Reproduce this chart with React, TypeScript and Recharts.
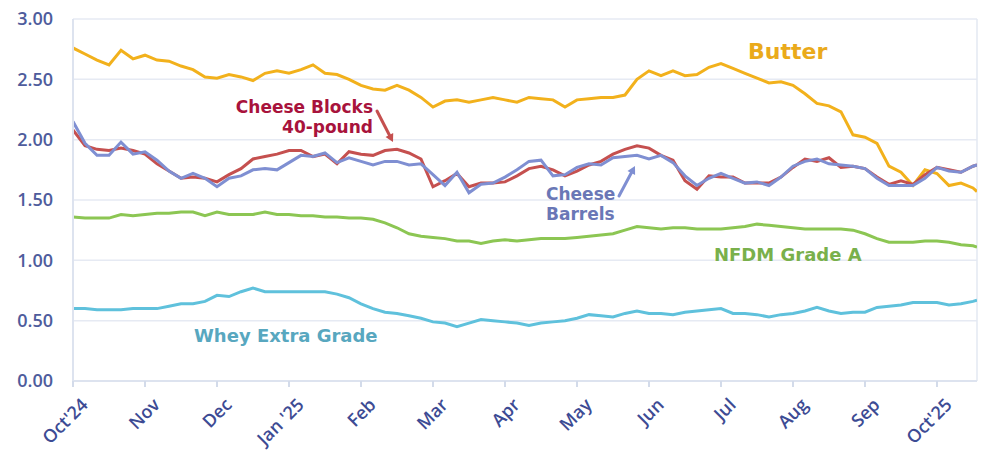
import React from 'react';
import { LineChart, Line, XAxis, YAxis, CartesianGrid, ReferenceLine } from 'recharts';

// Month tick labels (one per month start, Oct'24 .. Oct'25)
const monthLabels = ["Oct'24", 'Nov', 'Dec', "Jan '25", 'Feb', 'Mar', 'Apr', 'May', 'Jun', 'Jul', 'Aug', 'Sep', "Oct'25"];
const yTicks = [0, 0.5, 1, 1.5, 2, 2.5, 3];

// Samples every 1/6 month from Oct 1 2024; last sample is the final date (~Oct 17 2025)
const STEP = 1 / 6;
const END_T = 12.556;

const butter = [
  2.76, 2.71, 2.66, 2.62, 2.74, 2.67, 2.70, 2.66, 2.65, 2.61, 2.58, 2.52, 2.51, 2.54, 2.52, 2.49,
  2.55, 2.57, 2.55, 2.58, 2.62, 2.55, 2.54, 2.50, 2.45, 2.42, 2.41, 2.45, 2.41, 2.35, 2.27, 2.32,
  2.33, 2.31, 2.33, 2.35, 2.33, 2.31, 2.35, 2.34, 2.33, 2.27, 2.33, 2.34, 2.35, 2.35, 2.37, 2.50,
  2.57, 2.53, 2.57, 2.53, 2.54, 2.60, 2.63, 2.59, 2.55, 2.51, 2.47, 2.48, 2.45, 2.38, 2.30, 2.28,
  2.23, 2.04, 2.02, 1.97, 1.78, 1.73, 1.62, 1.75, 1.72, 1.62, 1.64, 1.60, 1.57,
];
const cheeseBlocks = [
  2.08, 1.95, 1.92, 1.91, 1.93, 1.91, 1.88, 1.80, 1.74, 1.68, 1.69, 1.68, 1.65, 1.71, 1.76, 1.84,
  1.86, 1.88, 1.91, 1.91, 1.86, 1.88, 1.80, 1.90, 1.88, 1.87, 1.91, 1.92, 1.89, 1.84, 1.61, 1.66,
  1.72, 1.61, 1.64, 1.64, 1.65, 1.70, 1.76, 1.78, 1.75, 1.70, 1.74, 1.79, 1.82, 1.88, 1.92, 1.95,
  1.93, 1.87, 1.83, 1.66, 1.59, 1.70, 1.69, 1.69, 1.64, 1.64, 1.64, 1.69, 1.77, 1.84, 1.82, 1.85,
  1.77, 1.78, 1.76, 1.69, 1.63, 1.66, 1.63, 1.71, 1.77, 1.75, 1.73, 1.78, 1.79,
];
const cheeseBarrels = [
  2.15, 1.97, 1.87, 1.87, 1.98, 1.88, 1.90, 1.83, 1.74, 1.68, 1.72, 1.68, 1.61, 1.68, 1.70, 1.75,
  1.76, 1.75, 1.81, 1.87, 1.86, 1.89, 1.81, 1.85, 1.82, 1.79, 1.82, 1.82, 1.79, 1.80, 1.71, 1.62,
  1.73, 1.56, 1.63, 1.64, 1.69, 1.75, 1.82, 1.83, 1.70, 1.71, 1.77, 1.80, 1.79, 1.85, 1.86, 1.87,
  1.84, 1.87, 1.81, 1.70, 1.62, 1.68, 1.72, 1.68, 1.64, 1.65, 1.62, 1.69, 1.78, 1.82, 1.84, 1.80,
  1.79, 1.78, 1.76, 1.68, 1.62, 1.62, 1.62, 1.68, 1.77, 1.74, 1.73, 1.78, 1.79,
];
const nfdm = [
  1.36, 1.35, 1.35, 1.35, 1.38, 1.37, 1.38, 1.39, 1.39, 1.40, 1.40, 1.37, 1.40, 1.38, 1.38, 1.38,
  1.40, 1.38, 1.38, 1.37, 1.37, 1.36, 1.36, 1.35, 1.35, 1.34, 1.31, 1.27, 1.22, 1.20, 1.19, 1.18,
  1.16, 1.16, 1.14, 1.16, 1.17, 1.16, 1.17, 1.18, 1.18, 1.18, 1.19, 1.20, 1.21, 1.22, 1.25, 1.28,
  1.27, 1.26, 1.27, 1.27, 1.26, 1.26, 1.26, 1.27, 1.28, 1.30, 1.29, 1.28, 1.27, 1.26, 1.26, 1.26,
  1.26, 1.25, 1.22, 1.18, 1.15, 1.15, 1.15, 1.16, 1.16, 1.15, 1.13, 1.12, 1.11,
];
const whey = [
  0.60, 0.60, 0.59, 0.59, 0.59, 0.60, 0.60, 0.60, 0.62, 0.64, 0.64, 0.66, 0.71, 0.70, 0.74, 0.77,
  0.74, 0.74, 0.74, 0.74, 0.74, 0.74, 0.72, 0.69, 0.64, 0.60, 0.57, 0.56, 0.54, 0.52, 0.49, 0.48,
  0.45, 0.48, 0.51, 0.50, 0.49, 0.48, 0.46, 0.48, 0.49, 0.50, 0.52, 0.55, 0.54, 0.53, 0.56, 0.58,
  0.56, 0.56, 0.55, 0.57, 0.58, 0.59, 0.60, 0.56, 0.56, 0.55, 0.53, 0.55, 0.56, 0.58, 0.61, 0.58,
  0.56, 0.57, 0.57, 0.61, 0.62, 0.63, 0.65, 0.65, 0.65, 0.63, 0.64, 0.66, 0.67,
];

const data = butter.map((_, i) => ({
  t: i === butter.length - 1 ? END_T : i * STEP,
  butter: butter[i],
  blocks: cheeseBlocks[i],
  barrels: cheeseBarrels[i],
  nfdm: nfdm[i],
  whey: whey[i],
}));

const W = 982;
const H = 451;
const FONT = "'Open Sans', 'Noto Sans', sans-serif";
const NOTE_FONT = "'Comic Sans MS', 'DejaVu Sans', sans-serif";

const XTick = (props: any) => {
  const { x, y, payload } = props;
  const label = monthLabels[Math.round(payload.value)] ?? '';
  return (
    <g transform={`translate(${x + 7},${y + 8})`}>
      <text
        x={0}
        y={0}
        dy="0.71em"
        textAnchor="end"
        transform="rotate(-45)"
        fill="#3d4b94"
        fontSize={18}
        fontWeight={600}
        fontFamily={FONT}
      >
        {label}
      </text>
    </g>
  );
};

const Arrow = ({ x1, y1, x2, y2, color }: any) => {
  const ang = Math.atan2(y2 - y1, x2 - x1);
  const len = 9;
  const spread = 0.5;
  const ax = x2 - len * Math.cos(ang - spread);
  const ay = y2 - len * Math.sin(ang - spread);
  const bx = x2 - len * Math.cos(ang + spread);
  const by = y2 - len * Math.sin(ang + spread);
  return (
    <g>
      <line x1={x1} y1={y1} x2={x2 - 4 * Math.cos(ang)} y2={y2 - 4 * Math.sin(ang)} stroke={color} strokeWidth={3} strokeLinecap="round" />
      <polygon points={`${x2},${y2} ${ax},${ay} ${bx},${by}`} fill={color} />
    </g>
  );
};

export default function App() {
  return (
    <div style={{ position: 'absolute', left: 0, top: 0, width: W, height: H, background: '#ffffff' }}>
      <LineChart width={W} height={H} data={data} margin={{ top: 19, right: 5, bottom: 0, left: 0 }}>
        <CartesianGrid horizontal vertical={false} stroke="#e6eaf3" strokeWidth={1.5} />
        <XAxis
          dataKey="t"
          type="number"
          domain={[0, END_T]}
          ticks={monthLabels.map((_, i) => i)}
          interval={0}
          height={70}
          tick={<XTick />}
          axisLine={{ stroke: '#dde3ef', strokeWidth: 2 }}
          tickLine={{ stroke: '#d3dbea', strokeWidth: 2 }}
          tickSize={6}
          allowDataOverflow
        />
        <YAxis
          type="number"
          domain={[0, 3]}
          ticks={yTicks}
          width={73}
          tickFormatter={(v: number) => v.toFixed(2)}
          tick={{ fill: '#4e5c9c', fontSize: 18, fontWeight: 600, fontFamily: FONT }}
          tickLine={false}
          tickMargin={20}
          tickSize={0}
          axisLine={{ stroke: '#dde3ef', strokeWidth: 2 }}
        />
        <ReferenceLine x={END_T} stroke="#e3e8f2" strokeWidth={1.5} />
        <Line type="linear" dataKey="whey" stroke="#5fc1dc" strokeWidth={3} dot={false} isAnimationActive={false} />
        <Line type="linear" dataKey="nfdm" stroke="#8cc653" strokeWidth={3} dot={false} isAnimationActive={false} />
        <Line type="linear" dataKey="butter" stroke="#f2b11c" strokeWidth={3} dot={false} isAnimationActive={false} />
        <Line type="linear" dataKey="blocks" stroke="#c5504f" strokeWidth={3} dot={false} isAnimationActive={false} />
        <Line type="linear" dataKey="barrels" stroke="#7f8fd2" strokeWidth={3} dot={false} isAnimationActive={false} />
      </LineChart>
      <svg width={W} height={H} style={{ position: 'absolute', left: 0, top: 0, pointerEvents: 'none' }}>
        <text x={748} y={59} fill="#eaaa1b" fontSize={22} fontWeight={700} fontFamily={NOTE_FONT}>Butter</text>
        <text x={373} y={113} textAnchor="end" fill="#a8133c" fontSize={17} fontWeight={700} fontFamily={NOTE_FONT}>Cheese Blocks</text>
        <text x={373} y={133} textAnchor="end" fill="#a8133c" fontSize={17} fontWeight={700} fontFamily={NOTE_FONT}>40-pound</text>
        <Arrow x1={377} y1={111} x2={393} y2={142} color="#c5504f" />
        <text x={546} y={200} fill="#6a77b6" fontSize={17} fontWeight={700} fontFamily={NOTE_FONT}>Cheese</text>
        <text x={546} y={220} fill="#6a77b6" fontSize={17} fontWeight={700} fontFamily={NOTE_FONT}>Barrels</text>
        <Arrow x1={619} y1={196} x2={635} y2={166} color="#7f8fd2" />
        <text x={714} y={261} fill="#79b04b" fontSize={18} fontWeight={700} fontFamily={NOTE_FONT}>NFDM Grade A</text>
        <text x={194} y={342} fill="#58a7bf" fontSize={18} fontWeight={700} fontFamily={NOTE_FONT}>Whey Extra Grade</text>
      </svg>
    </div>
  );
}
